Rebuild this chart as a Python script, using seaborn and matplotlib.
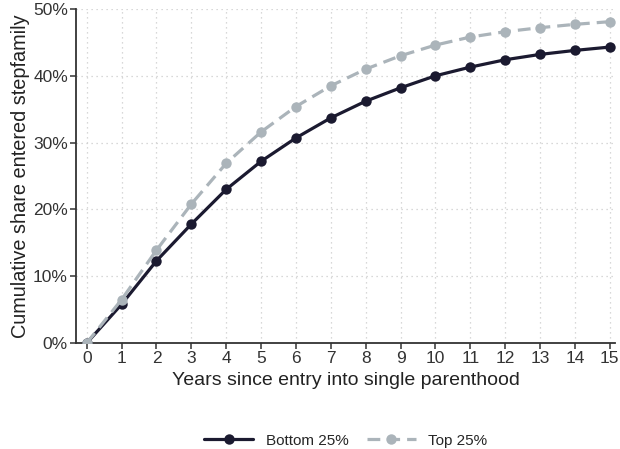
import pandas as pd
import matplotlib.pyplot as plt
import seaborn as sns
from matplotlib.ticker import FuncFormatter

# Data
years = list(range(16))
bottom_25 = [0, 5.8, 12.3, 17.8, 23.0, 27.2, 30.7, 33.7, 36.2, 38.2, 40.0, 41.3, 42.4, 43.2, 43.8, 44.3]
top_25 = [0, 6.5, 13.9, 20.8, 26.9, 31.6, 35.4, 38.5, 41.0, 43.0, 44.6, 45.8, 46.6, 47.2, 47.7, 48.1]
groups = ["Bottom 25%", "Top 25%"]

df = pd.DataFrame({
    "year": years * 2,
    "share": bottom_25 + top_25,
    "group": [groups[0]] * len(years) + [groups[1]] * len(years),
})

sns.set_theme(style="white")
plt.rcParams["font.family"] = ["Liberation Sans", "DejaVu Sans"]

fig = plt.figure(figsize=(6.2, 4.49), dpi=100)
ax = fig.add_axes([0.123, 0.236, 0.869, 0.744])

palette = {groups[0]: "#1b1a30", groups[1]: "#abb4ba"}

sns.lineplot(data=df, x="year", y="share", hue="group", style="group",
             palette=palette, dashes={groups[0]: "", groups[1]: (4, 2.2)},
             markers={groups[0]: "o", groups[1]: "o"}, markersize=7.5,
             markeredgewidth=0, linewidth=2.3, ax=ax, zorder=3)

ax.set_xlim(-0.3, 15.15)
ax.set_ylim(0, 50)
ax.set_xticks(years)
ax.set_yticks([0, 10, 20, 30, 40, 50])
ax.yaxis.set_major_formatter(FuncFormatter(lambda v, p: f"{v:.0f}%"))

ax.grid(True, linestyle=(0, (1, 3)), color="#cccccc", linewidth=0.9)
for s in ["top", "right"]:
    ax.spines[s].set_visible(False)
for s in ["left", "bottom"]:
    ax.spines[s].set_color("#333333")
    ax.spines[s].set_linewidth(1.3)

ax.tick_params(axis="both", length=4, width=1.1, color="#333333",
               labelsize=12.5, labelcolor="#333333", pad=2, bottom=True, left=True)
ax.set_xlabel("Years since entry into single parenthood", fontsize=14, color="#222222", labelpad=4)
ax.set_ylabel("Cumulative share entered stepfamily", fontsize=14.3, color="#222222", labelpad=2)

ax.legend(title=None, frameon=False, loc="upper center", bbox_to_anchor=(0.5, -0.23),
          ncol=2, fontsize=11, handlelength=3.2, columnspacing=1.2)

plt.savefig("out.png", dpi=100)
